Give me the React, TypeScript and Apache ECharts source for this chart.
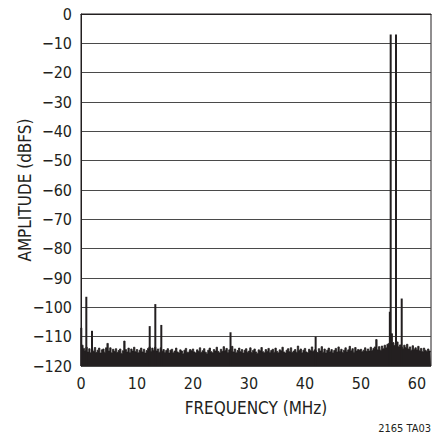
import React, { useEffect, useRef } from 'react';
import * as echarts from 'echarts';

// ---- data ----
const X_MIN_MHZ = 0;
const X_MAX_MHZ = 62.5;
const Y_MIN_DBFS = -120;
const Y_MAX_DBFS = 0;
const X_TICK_STEP = 10;
const Y_TICK_STEP = 10;

// noise floor, one value every 0.25 MHz from 0 to 62.5 MHz
const NOISE_STEP_MHZ = 0.25;
const NOISE_FLOOR_DBFS = [
  // 0 - 4.75
  -113.2, -112.9, -114.0, -114.8, -113.6, -115.2, -114.1, -115.5, -114.4, -115.0,
  -113.7, -115.4, -114.6, -113.9, -115.6, -114.5, -114.2, -115.3, -113.8, -112.3,
  // 5 - 9.75
  -114.9, -113.8, -115.5, -114.3, -115.0, -114.1, -115.4, -114.7, -114.2, -115.7,
  -114.8, -111.5, -114.4, -115.2, -113.9, -115.4, -114.2, -114.9, -113.6, -115.1,
  // 10 - 14.75
  -114.4, -115.5, -114.6, -113.9, -115.2, -114.3, -115.6, -114.7, -114.0, -113.5,
  -115.0, -113.9, -114.6, -113.6, -114.9, -114.2, -115.3, -113.8, -115.0, -114.4,
  // 15 - 19.75
  -115.4, -114.7, -114.1, -115.6, -114.6, -114.3, -115.5, -114.9, -113.9, -115.2,
  -115.6, -114.5, -114.9, -115.8, -114.6, -114.0, -115.3, -115.5, -114.4, -114.8,
  // 20 - 24.75
  -114.2, -115.2, -115.6, -114.5, -115.0, -113.8, -115.4, -114.8, -114.1, -115.3,
  -115.7, -114.6, -113.9, -115.1, -115.5, -114.4, -114.9, -113.6, -115.0, -115.5,
  // 25 - 29.75
  -114.3, -115.0, -113.4, -114.7, -114.0, -115.4, -114.5, -114.8, -113.3, -115.2,
  -114.2, -115.5, -114.7, -113.9, -115.1, -114.4, -115.6, -114.6, -114.1, -115.3,
  // 30 - 34.75
  -114.9, -113.8, -115.4, -114.7, -114.2, -115.2, -115.7, -114.5, -114.8, -113.7,
  -115.1, -115.5, -114.4, -115.0, -114.0, -115.4, -114.7, -114.3, -115.3, -113.9,
  // 35 - 39.75
  -115.0, -115.5, -114.5, -114.8, -113.6, -115.2, -115.6, -114.6, -114.1, -115.1,
  -113.8, -115.4, -114.9, -114.4, -115.3, -113.2, -114.7, -114.2, -115.5, -114.6,
  // 40 - 44.75
  -114.0, -115.2, -115.5, -114.3, -114.8, -113.5, -115.0, -114.5, -114.7, -115.4,
  -114.1, -114.9, -113.4, -115.3, -114.2, -115.6, -114.6, -113.9, -115.1, -114.4,
  // 45 - 49.75
  -115.5, -114.7, -114.0, -115.2, -113.5, -115.0, -114.3, -115.4, -114.6, -113.8,
  -115.1, -114.5, -113.3, -114.8, -114.1, -115.3, -113.7, -114.9, -114.4, -114.6,
  // 50 - 54.75
  -114.3, -115.1, -114.6, -113.8, -115.0, -114.2, -114.9, -113.6, -114.7, -114.0,
  -113.5, -111.0, -114.5, -113.4, -114.6, -113.2, -114.1, -112.9, -113.8, -112.6,
  // 55 - 59.75
  -112.3, -111.0, -109.0, -112.0, -113.0, -112.2, -111.8, -113.4, -112.8, -113.5,
  -114.0, -112.9, -113.7, -112.6, -114.2, -113.5, -114.6, -113.1, -114.3, -113.8,
  // 60 - 62.5
  -114.5, -113.3, -114.8, -114.0, -115.1, -113.9, -114.6, -115.0, -114.2, -114.9,
  -115.3,
];

// discrete spurs and the two test tones
const SPUR_FREQ_MHZ = [0.05, 0.95, 1.96, 12.27, 13.27, 14.34, 26.7, 41.9, 55.15, 55.3, 56.25, 57.27];
const SPUR_LEVEL_DBFS = [-107, -96.4, -108, -106.4, -98.9, -106, -108.5, -110, -101.5, -7, -7, -97];

const INK = '#231f20';
const FONT = "'Liberation Sans Narrow', 'DejaVu Sans Condensed', 'Liberation Sans', sans-serif";

const fmtMinus = (v: number) => (v < 0 ? '\u2212' + Math.abs(v) : String(v));

export default function App() {
  const ref = useRef<HTMLDivElement>(null);

  useEffect(() => {
    if (!ref.current) return;
    const chart = echarts.init(ref.current, undefined, { renderer: 'svg' });

    const noiseData = NOISE_FLOOR_DBFS.map((v, i) => [i * NOISE_STEP_MHZ, v]);
    const spurData = SPUR_FREQ_MHZ.map((f, i) => [f, SPUR_LEVEL_DBFS[i]]);

    chart.setOption({
      animation: false,
      backgroundColor: '#ffffff',
      textStyle: { fontFamily: FONT, color: INK },
      grid: {
        left: 81,
        right: 8,
        top: 14,
        bottom: 71,
        containLabel: false,
        outerBoundsMode: 'none',
        show: true,
        borderColor: INK,
        borderWidth: 1,
        backgroundColor: 'transparent',
      },
      xAxis: {
        type: 'value',
        min: X_MIN_MHZ,
        max: X_MAX_MHZ,
        interval: X_TICK_STEP,
        name: 'FREQUENCY (MHz)',
        nameLocation: 'middle',
        nameGap: 33,
        nameMoveOverlap: false,
        nameTextStyle: { fontFamily: FONT, fontSize: 17, color: INK },
        axisLine: { show: true, lineStyle: { color: INK, width: 1 } },
        axisTick: { show: false },
        splitLine: { show: false },
        axisLabel: {
          fontFamily: FONT,
          fontSize: 16,
          color: INK,
          margin: 9,
          formatter: (v: number) => fmtMinus(v),
        },
      },
      yAxis: {
        type: 'value',
        min: Y_MIN_DBFS,
        max: Y_MAX_DBFS,
        interval: Y_TICK_STEP,
        name: 'AMPLITUDE (dBFS)',
        nameLocation: 'middle',
        nameGap: 48,
        nameRotate: 90,
        nameMoveOverlap: false,
        nameTextStyle: { fontFamily: FONT, fontSize: 17, color: INK },
        axisLine: { show: true, lineStyle: { color: INK, width: 1 } },
        axisTick: { show: false },
        splitLine: { show: true, lineStyle: { color: '#4a4a4a', width: 1 } },
        axisLabel: {
          fontFamily: FONT,
          fontSize: 16,
          color: INK,
          margin: 9,
          formatter: (v: number) => fmtMinus(v),
        },
      },
      graphic: [
        {
          type: 'text',
          right: 8,
          top: 423,
          style: {
            text: '2165 TA03',
            fontFamily: FONT,
            fontSize: 11,
            fill: INK,
          },
        },
      ],
      series: [
        {
          type: 'line',
          data: noiseData,
          step: 'middle',
          showSymbol: false,
          symbol: 'none',
          lineStyle: { color: INK, width: 0.8 },
          areaStyle: { color: INK, opacity: 1, origin: 'start' },
          z: 2,
        },
        {
          type: 'custom',
          data: spurData,
          encode: { x: 0, y: 1 },
          z: 3,
          renderItem: (params: any, api: any) => {
            const f = api.value(0);
            const top = api.coord([f, api.value(1)]);
            const bot = api.coord([f, Y_MIN_DBFS]);
            return {
              type: 'line',
              shape: { x1: top[0], y1: top[1], x2: bot[0], y2: bot[1] },
              style: { stroke: INK, lineWidth: 2 },
            };
          },
        },
      ],
    });

    return () => chart.dispose();
  }, []);

  return (
    <div
      ref={ref}
      style={{ position: 'fixed', left: 0, top: 0, width: 439, height: 437, background: '#fff' }}
    />
  );
}
